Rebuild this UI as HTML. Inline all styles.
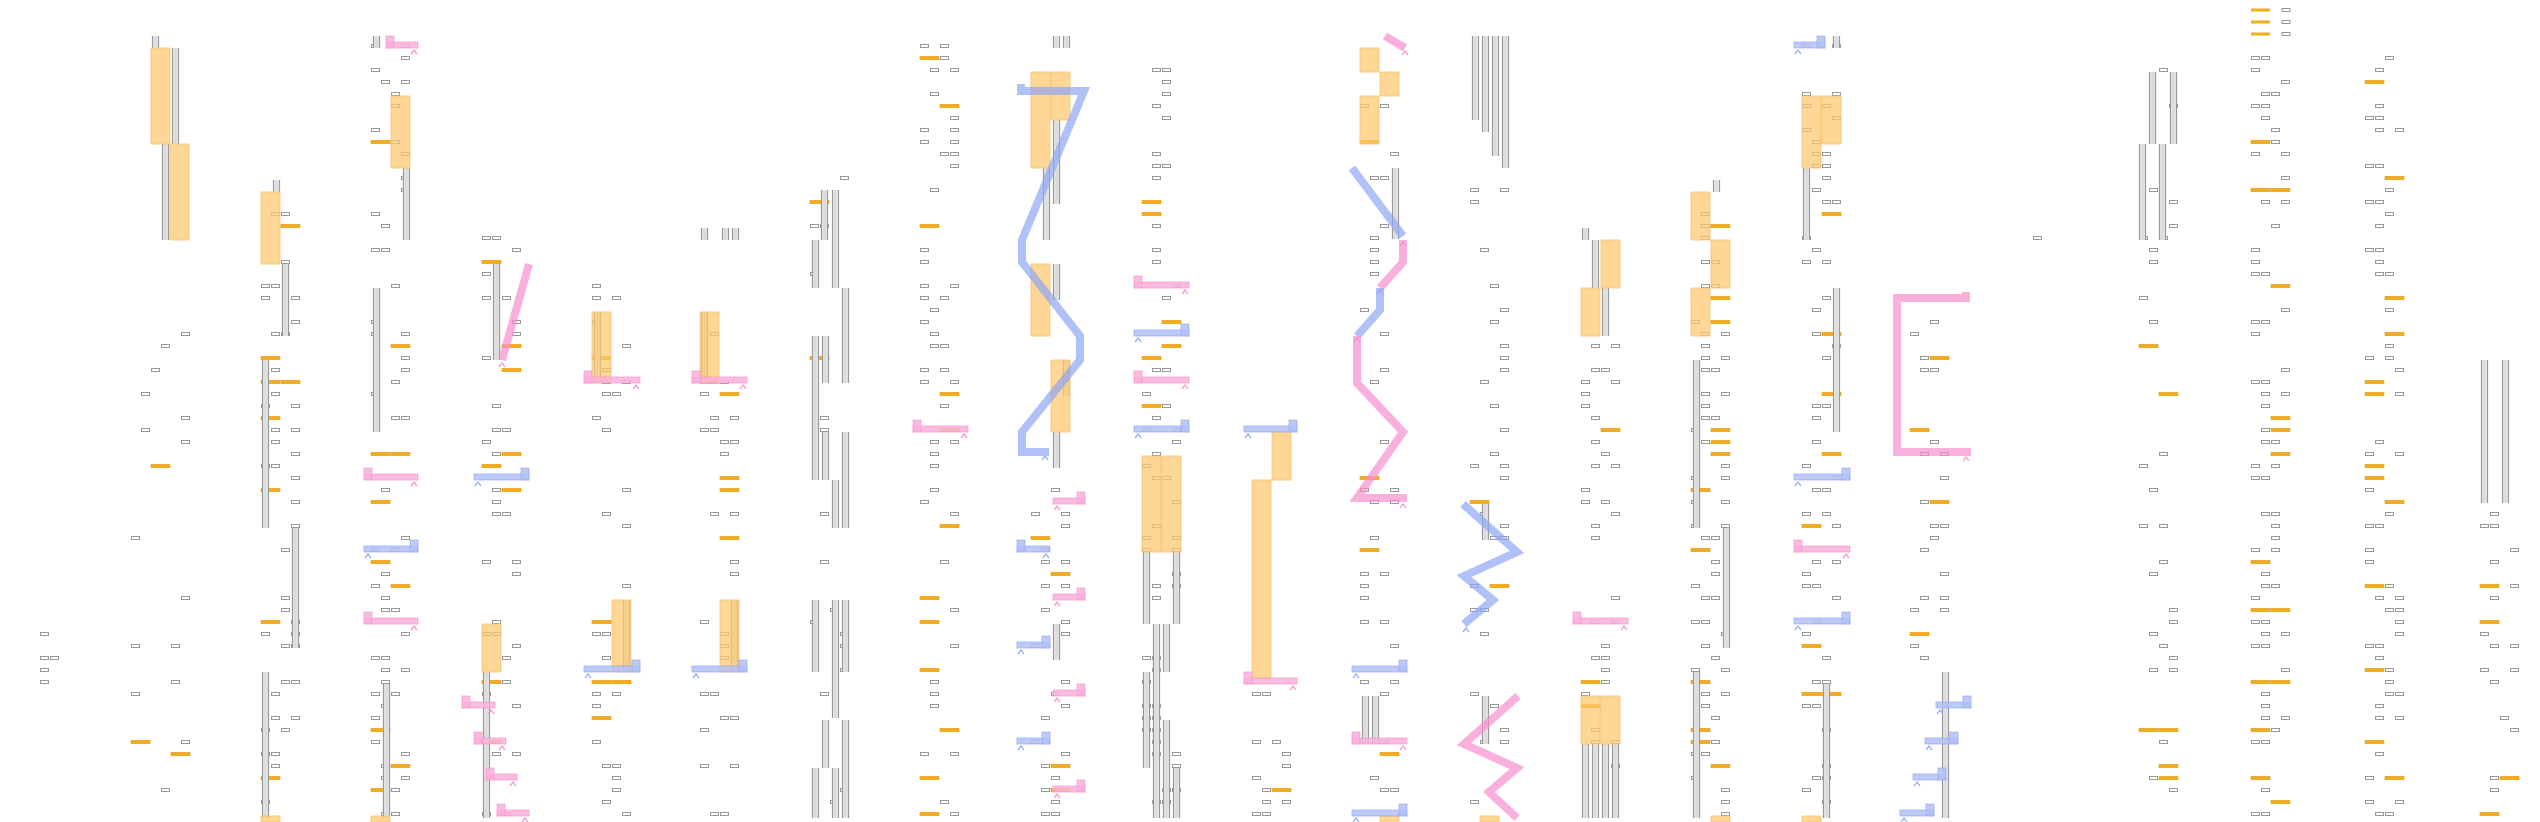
<!DOCTYPE html>
<html><head><meta charset="utf-8">
<style>
html,body{margin:0;padding:0;background:#fff;width:2540px;height:822px;overflow:hidden}
svg{display:block}
</style></head>
<body>
<svg id="s" xmlns="http://www.w3.org/2000/svg" width="2540" height="822" viewBox="0 0 2540 822">
<defs>
<linearGradient id="gg" x1="0" x2="1" y1="0" y2="0">
<stop offset="0" stop-color="#f2f2f2"/><stop offset="0.5" stop-color="#d8d8d8"/><stop offset="1" stop-color="#f4f4f4"/>
</linearGradient>
</defs>
<rect width="2540" height="822" fill="#fff"/>
<g id="boxes"></g><g id="bars"></g><g id="rects"></g><g id="paths"></g>
</svg>
<script>
var NS="http://www.w3.org/2000/svg";
function el(p,t,a){var e=document.createElementNS(NS,t);for(var k in a)e.setAttribute(k,a[k]);document.getElementById(p).appendChild(e);return e;}
var seed=12345;function rnd(){seed=(seed*1103515245+12345)&0x7fffffff;return seed/0x7fffffff;}
var bands=[[40,0,3,610,690,0.25],[131,0,6,270,818,0.09],[261,0,4,192,818,0.26],[371,0,4,46,818,0.27],[482,0,4,238,818,0.22],[592,0,4,238,818,0.16],[700,0,4,282,818,0.16],[810,0,4,110,818,0.1],[920,0,4,36,818,0.27],[1031,0,4,472,818,0.22],[1142,0,4,36,818,0.22],[1252,0,4,684,818,0.35],[1360,0,4,96,818,0.22],[1470,0,4,190,818,0.18],[1581,0,4,336,818,0.2],[1691,0,4,180,818,0.27],[1802,0,4,46,818,0.27],[1910,0,4,316,660,0.22],[2023,0,4,238,290,0.2],[2139,0,4,46,818,0.13],[2251,0,4,10,818,0.33],[2365,0,4,46,818,0.28],[2480,0,4,510,818,0.28]];
bands.forEach(function(b){
 var y0=b[3],y1=b[4];
 for(var y=46;y<=818;y+=12){ if(y<y0-1||y>y1+1)continue;
  var used=0;
  for(var c=0;c<b[2];c++){ if(rnd()>b[5])continue;
   var x=b[0]+10*c;
   if(c%2==0 && rnd()<0.3 && c+1<b[2]){el("boxes","rect",{x:x,y:y-1.5,width:19,height:3,fill:"#f7ad16",stroke:"#e09000","stroke-width":0.6});c++;}
   else el("boxes","rect",{x:x+0.5,y:y-1.5,width:8,height:3,fill:"#fff",stroke:"#999","stroke-width":1});
   used++; if(used>=2)break;
  }}
 if(b[0]==2251){for(var y=10;y<46;y+=12){el("boxes","rect",{x:2251,y:y-1.5,width:19,height:3,fill:"#f7ad16"});el("boxes","rect",{x:2282,y:y-1.5,width:8,height:3,fill:"#fff",stroke:"#999"});}}
});
var gbs=[[152,36,48],[172,48,144],[162,144,240],[273,180,192],[282,264,336],[262,360,528],[292,528,648],[262,672,818],[373,36,48],[403,168,240],[373,288,432],[383,684,818],[493,264,360],[483,672,818],[594,312,383],[623,600,672],[701,228,240],[722,228,240],[732,228,240],[701,312,383],[731,600,672],[821,190,240],[832,190,288],[812,240,288],[842,288,383],[812,336,480],[822,336,383],[822,432,480],[842,432,528],[832,480,528],[812,600,672],[832,600,718],[842,600,672],[822,720,768],[842,720,818],[812,768,818],[832,768,818],[1053,36,48],[1063,36,48],[1053,120,204],[1043,168,240],[1053,264,300],[1063,360,396],[1053,432,468],[1053,624,660],[1143,552,624],[1173,552,624],[1153,624,818],[1163,624,672],[1143,672,768],[1163,720,818],[1173,768,818],[1392,168,239],[1362,696,744],[1372,696,744],[1472,36,120],[1482,36,132],[1492,36,156],[1502,36,168],[1482,504,540],[1482,696,744],[1582,228,240],[1592,240,288],[1602,288,336],[1582,744,818],[1592,744,818],[1602,744,818],[1612,744,818],[1713,180,192],[1693,360,528],[1723,528,648],[1693,672,818],[1833,36,48],[1803,168,240],[1833,288,432],[1823,684,818],[1942,672,818],[2149,72,144],[2170,72,144],[2139,144,240],[2159,144,240],[2481,360,503],[2502,360,503]];
gbs.forEach(function(g){el("bars","rect",{x:g[0],y:g[1],width:7,height:g[2]-g[1],fill:"url(#gg)"});
 el("bars","line",{x1:g[0]+0.5,x2:g[0]+0.5,y1:g[1],y2:g[2],stroke:"#999","stroke-width":1.2});
 el("bars","line",{x1:g[0]+6.5,x2:g[0]+6.5,y1:g[1],y2:g[2],stroke:"#999","stroke-width":1.2});});
var ors=[[151,48,144],[170,144,240],[261,192,264],[391,96,168],[482,624,672],[592,312,383],[612,600,672],[700,312,383],[720,600,672],[1031,72,168],[1051,72,120],[1031,264,336],[1051,360,432],[1142,456,552],[1162,456,552],[1272,432,480],[1252,480,679],[1360,48,72],[1380,72,96],[1360,96,144],[1601,240,288],[1581,288,336],[1581,696,744],[1601,696,744],[1691,192,240],[1711,240,288],[1691,288,336],[1802,96,168],[1822,96,144],[261,816,822],[371,816,822],[1380,816,822],[1480,816,822],[1711,816,822],[1802,816,822]];
ors.forEach(function(r){el("rects","rect",{x:r[0],y:r[1],width:19,height:r[2]-r[1],fill:"#fdc86e","fill-opacity":0.72,stroke:"#f9c46a","stroke-width":0.8});});
var PK="#f78fcf",BL="#8ea6f3";
function pl(col,pts){el("paths","polyline",{points:pts.map(function(p){return p.join(",")}).join(" "),fill:"none",stroke:col,"stroke-opacity":0.7,"stroke-width":8,"stroke-linejoin":"miter"});}
function caret(col,x,y){el("paths","polyline",{points:(x-3)+","+(y+4)+" "+x+","+y+" "+(x+3)+","+(y+4),fill:"none",stroke:col,"stroke-width":1.2});}
pl(PK,[[529,264],[502,360]]);caret(PK,502,363);
pl(BL,[[1021,84],[1021,91],[1084,91],[1022,240],[1022,262],[1080,336],[1080,360],[1022,432],[1022,452],[1049,452]]);caret(BL,1045,456);
pl(PK,[[1385,36],[1405,48]]);caret(PK,1405,51);
pl(BL,[[1352,168],[1403,236]]);
pl(PK,[[1403,240],[1403,262],[1380,288]]);caret(PK,1403,242);
pl(BL,[[1380,288],[1380,310],[1357,336]]);caret(BL,1380,290);
pl(PK,[[1357,336],[1357,383],[1403,432],[1357,498],[1407,498]]);caret(PK,1357,338);caret(PK,1403,504);
pl(BL,[[1463,504],[1517,552],[1464,576],[1493,600],[1464,624]]);caret(BL,1466,628);
pl(PK,[[1518,696],[1464,744],[1517,768],[1489,792],[1517,818]]);
pl(PK,[[1966,292],[1966,298],[1897,298],[1897,452],[1971,452]]);caret(PK,1966,457);
var Ls=[[PK,386,418,48,"l"],[PK,364,418,480,"l"],[BL,364,418,552,"r"],[PK,364,418,624,"l"],[BL,474,529,480,"r"],[PK,462,495,708,"l"],[PK,474,506,744,"l"],[PK,486,517,780,"l"],[PK,497,529,816,"l"],[PK,584,640,383,"l"],[BL,584,640,672,"r"],[PK,692,747,383,"l"],[BL,692,747,672,"r"],[PK,913,968,432,"l"],[PK,1053,1085,504,"r"],[BL,1017,1050,552,"l"],[PK,1053,1085,600,"r"],[BL,1017,1050,648,"r"],[PK,1053,1085,696,"r"],[BL,1017,1050,744,"r"],[PK,1053,1085,792,"r"],[PK,1134,1189,288,"l"],[BL,1134,1189,336,"r"],[PK,1134,1189,383,"l"],[BL,1134,1189,432,"r"],[BL,1244,1297,432,"r"],[PK,1244,1297,684,"l"],[BL,1352,1407,672,"r"],[PK,1352,1407,744,"l"],[BL,1352,1407,816,"r"],[PK,1573,1628,624,"l"],[BL,1794,1825,48,"r"],[BL,1794,1850,480,"r"],[PK,1794,1850,552,"l"],[BL,1794,1850,624,"r"],[BL,1936,1971,708,"r"],[BL,1925,1958,744,"r"],[BL,1913,1946,780,"r"],[BL,1900,1934,816,"r"]];
Ls.forEach(function(L){var c=L[0],x1=L[1],x2=L[2],y=L[3];
 var fill=c==PK?"#fbb0dc":"#b2c1f7",st=c;
 el("paths","rect",{x:x1,y:y-6,width:x2-x1,height:6,fill:fill,"fill-opacity":0.85,stroke:st,"stroke-opacity":0.8,"stroke-width":0.8});
 var sx=L[4]=="l"?x1:x2-8;
 el("paths","rect",{x:sx,y:y-12,width:8,height:12,fill:fill,"fill-opacity":0.85,stroke:st,"stroke-opacity":0.8,"stroke-width":0.8});
 caret(c,L[4]=="l"?x2-4:x1+4,y+2);
});
</script>
</body></html>
